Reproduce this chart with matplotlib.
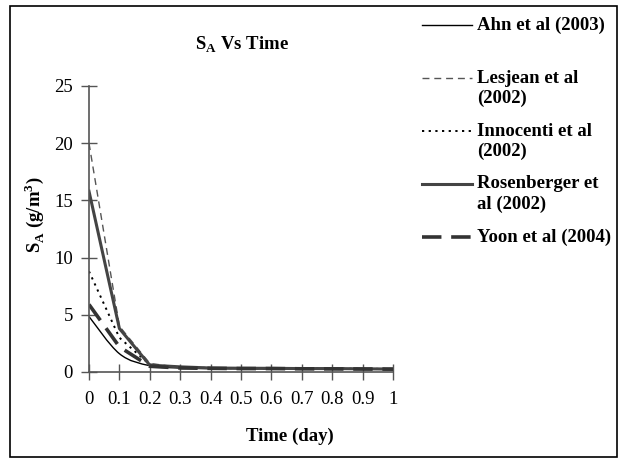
import numpy as np
import matplotlib
matplotlib.use("Agg")
import matplotlib.pyplot as plt
from matplotlib.path import Path
from matplotlib.patches import PathPatch, Rectangle
from matplotlib.lines import Line2D

plt.rcParams['font.family'] = ['Liberation Serif', 'DejaVu Serif']
plt.rcParams['font.size'] = 13.5
plt.rcParams['mathtext.fontset'] = 'custom'
plt.rcParams['mathtext.rm'] = 'Liberation Serif:bold'
plt.rcParams['mathtext.bf'] = 'Liberation Serif:bold'
plt.rcParams['lines.scale_dashes'] = False

# data
time = [0, 0.1, 0.2, 0.3, 0.4, 0.5, 0.6, 0.7, 0.8, 0.9, 1.0]
ahn = [4.85, 1.6, 0.55, 0.35, 0.3, 0.28, 0.27, 0.26, 0.25, 0.24, 0.22]
lesjean = [20.0, 4.0, 0.75, 0.4, 0.38, 0.35, 0.33, 0.32, 0.3, 0.28, 0.27]
innocenti = [8.8, 3.0, 0.65, 0.4, 0.35, 0.33, 0.32, 0.3, 0.3, 0.28, 0.27]
rosenberger = [15.8, 3.8, 0.6, 0.45, 0.35, 0.33, 0.32, 0.3, 0.3, 0.28, 0.26]
yoon = [5.9, 2.2, 0.5, 0.35, 0.32, 0.3, 0.3, 0.28, 0.27, 0.26, 0.25]

x_ticks = [0, 0.1, 0.2, 0.3, 0.4, 0.5, 0.6, 0.7, 0.8, 0.9, 1]
x_ticklabels = ['0', '0.1', '0.2', '0.3', '0.4', '0.5', '0.6', '0.7', '0.8', '0.9', '1']
y_ticks = [0, 5, 10, 15, 20, 25]

W, H = 625, 459
fig = plt.figure(figsize=(W / 100, H / 100), dpi=100)

# outer frame of the chart
fig.patches.append(Rectangle((10 / W, 1 - 457 / H), (617 - 10) / W, (457 - 6) / H,
                             transform=fig.transFigure, fill=False,
                             edgecolor='black', linewidth=1.2))

ax = fig.add_axes([89 / W, 1 - 372 / H, (393 - 89) / W, (372 - 86) / H])


def smooth_path(xs, ys):
    # excel style smoothed line: catmull-rom segments as cubic beziers
    p = np.column_stack([xs, ys])
    verts = [p[0]]
    codes = [Path.MOVETO]
    n = len(p)
    for i in range(n - 1):
        p0 = p[max(i - 1, 0)]
        p1 = p[i]
        p2 = p[i + 1]
        p3 = p[min(i + 2, n - 1)]
        c1 = p1 + (p2 - p0) / 6.0
        c2 = p2 - (p3 - p1) / 6.0
        verts += [c1, c2, p2]
        codes += [Path.CURVE4] * 3
    return Path(verts, codes)


series = [
    ('Ahn et al (2003)', ahn, dict(color='black', lw=1.0, ls='-')),
    ('Lesjean et al\n(2002)', lesjean, dict(color='#555555', lw=1.0, ls=(0, (5, 3.5)))),
    ('Innocenti et al\n(2002)', innocenti, dict(color='black', lw=1.4, ls=(0, (1.6, 3.2)))),
    ('Rosenberger et\nal (2002)', rosenberger, dict(color='#444444', lw=2.2, ls='-')),
    ('Yoon et al (2004)', yoon, dict(color='#333333', lw=2.6, ls=(0, (14, 7)))),
]

for name, vals, st in series:
    if name.startswith('Ahn'):
        ax.add_patch(PathPatch(smooth_path(time, vals), fill=False,
                               edgecolor=st['color'], lw=st['lw']))
    else:
        ax.plot(time, vals, color=st['color'], lw=st['lw'], ls=st['ls'])

ax.set_xlim(0, 1)
ax.set_ylim(0, 25)
ax.set_xticks(x_ticks)
ax.set_xticklabels(x_ticklabels)
ax.set_yticks(y_ticks)
for s in ['top', 'right']:
    ax.spines[s].set_visible(False)
for s in ['left', 'bottom']:
    ax.spines[s].set_color('#555555')
    ax.spines[s].set_linewidth(1.2)
ax.tick_params(axis='both', direction='inout', length=11, width=1,
               color='#555555', labelsize=13.5)
ax.tick_params(axis='x', pad=8)
ax.tick_params(axis='y', pad=6)
ax.patch.set_visible(False)

fig.text(242 / W, 1 - 45 / H, r'S$_\mathrm{A}$ Vs Time', ha='center', va='center',
         fontweight='bold', fontsize=13.5)
fig.text(290 / W, 1 - 436 / H, 'Time (day)', ha='center', va='center',
         fontweight='bold', fontsize=13.5)
fig.text(34 / W, 1 - 215 / H, r'S$_\mathrm{A}$ (g/m$^\mathrm{3}$)', ha='center',
         va='center', rotation=90, fontweight='bold', fontsize=13.5)

# legend drawn by hand: handle sits on the first text line like in excel
rows = [25, 78, 131, 184, 237]
for (name, vals, st), yr in zip(series, rows):
    fy = 1 - yr / H
    fig.lines.append(Line2D([422 / W, 472 / W], [fy, fy], transform=fig.transFigure,
                            color=st['color'], lw=st['lw'], ls=st['ls']))
    for k, part in enumerate(name.split('\n')):
        fig.text(477 / W, 1 - (yr + 20 * k) / H, part, ha='left', va='center',
                 fontweight='bold', fontsize=13.5)

fig.savefig('out.png', dpi=100)
